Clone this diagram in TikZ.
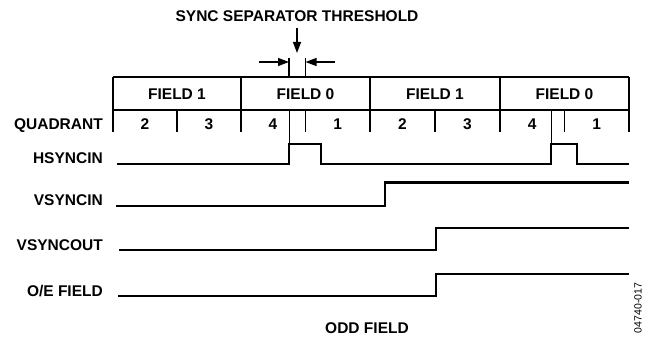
\documentclass[tikz,border=0pt]{standalone}
\usepackage{fontspec}
\setmainfont{Liberation Sans}
\usetikzlibrary{arrows.meta}

\begin{document}
\begin{tikzpicture}
            [x=1pt,y=-1pt,
             grid/.style={line width=1.1pt},
             marker/.style={line width=0.8pt},
             signal/.style={line width=2.2pt},
             tip/.style={-{Triangle[length=11pt,width=8pt]}},
             every node/.style={font=\fontsize{15.5}{18}\bfseries\selectfont,inner sep=0pt}]
            \useasboundingbox (0,0) rectangle (652,339);
            % threshold
            \node[anchor=base] (title) at (297,21.5) {SYNC SEPARATOR THRESHOLD};
            \coordinate (thrtop) at (297,28);
            \coordinate (thrbot) at (297,53);
            \draw[line width=1.4pt,tip] (thrtop) -- (thrbot);
            \coordinate (leftin) at (259,62);
            \coordinate (leftend) at (289,62);
            \coordinate (rightin) at (335,62);
            \coordinate (rightend) at (305.5,62);
            \draw[grid,tip] (leftin) -- (leftend);
            \draw[grid,tip] (rightin) -- (rightend);
            \draw[grid] (289,58) -- (289,77);
            \draw[grid] (305.5,58) -- (305.5,77);
            % the table
            \draw[grid] (113,77) -- (629,77);
            \draw[grid] (113,110) -- (629,110);
            \foreach \x in {113,241,370,500,629}
                \draw[grid] (\x,77) -- (\x,132);
            \foreach \x in {177,305.5,435,564.5}
                \draw[grid] (\x,110) -- (\x,132);
            \node[anchor=base] (f1a) at (177,100) {FIELD 1};
            \node[anchor=base] (f0a) at (305.5,100) {FIELD 0};
            \node[anchor=base] (f1b) at (435,100) {FIELD 1};
            \node[anchor=base] (f0b) at (564.5,100) {FIELD 0};
            \node[anchor=base east] (quad) at (103,130) {QUADRANT};
            \foreach \x/\q in {145/2,209/3,273/4,337.7/1,402.5/2,467.5/3,532.2/4,596.7/1}
                \node[anchor=base] (q\x) at (\x,130) {\q};
            % signals
            \node[anchor=base east] (hsync) at (103,164) {HSYNCIN};
            \node[anchor=base east] (vsyncin) at (103,205.5) {VSYNCIN};
            \node[anchor=base east] (vsyncout) at (103,250) {VSYNCOUT};
            \node[anchor=base east] (oefield) at (103,296) {O/E FIELD};
            \draw[marker] (289,110) -- (289,144);
            \draw[marker] (551,110) -- (551,144);
            \draw[signal] (117,164.3) -- (289,164.3) -- (289,144) -- (321,144) -- (321,164.3)
                -- (551,164.3) -- (551,144) -- (577,144) -- (577,164.3) -- (629,164.3);
            \draw[signal] (116,206) -- (385,206) -- (385,182.5) -- (629,182.5);
            \draw[signal] (119,250) -- (436,250) -- (436,228.3) -- (629,228.3);
            \draw[signal] (118,296) -- (436,296) -- (436,274.3) -- (629,274.3);
            % captions
            \node[anchor=base] (odd) at (367,333) {ODD FIELD};
            \node[rotate=90,font=\fontsize{10.5}{12}\selectfont] (figno) at (638,308) {04740-017};
        \end{tikzpicture}
\end{document}
